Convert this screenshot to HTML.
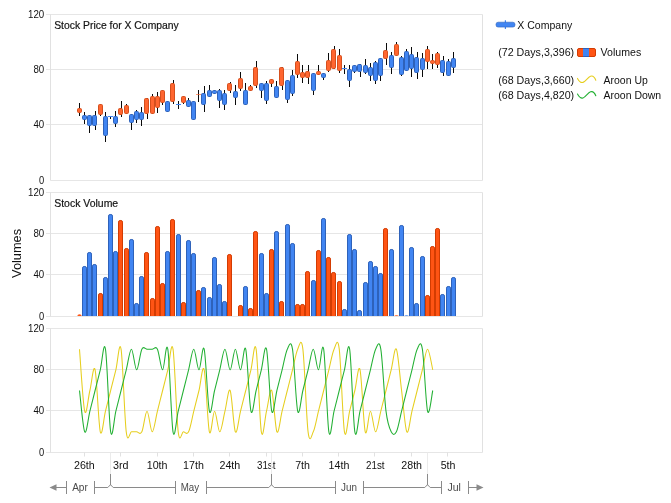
<!DOCTYPE html>
<html lang="en"><head><meta charset="utf-8"><title>Stock Price for X Company</title>
<style>html,body{margin:0;padding:0;background:#fff}svg{display:block}</style></head>
<body>
<svg width="671" height="503" viewBox="0 0 671 503" font-family='"Liberation Sans", sans-serif'>
<rect width="671" height="503" fill="#fff"/>
<line x1="46.0" y1="14.50" x2="482.5" y2="14.50" stroke="#E6E6E6" stroke-width="1"/>
<text x="44.2" y="18.40" font-size="11" text-anchor="end" fill="#111" textLength="16.2" lengthAdjust="spacingAndGlyphs">120</text>
<line x1="46.0" y1="69.50" x2="482.5" y2="69.50" stroke="#E6E6E6" stroke-width="1"/>
<text x="44.2" y="73.40" font-size="11" text-anchor="end" fill="#111" textLength="10.8" lengthAdjust="spacingAndGlyphs">80</text>
<line x1="46.0" y1="124.50" x2="482.5" y2="124.50" stroke="#E6E6E6" stroke-width="1"/>
<text x="44.2" y="128.40" font-size="11" text-anchor="end" fill="#111" textLength="10.8" lengthAdjust="spacingAndGlyphs">40</text>
<line x1="50.5" y1="180.50" x2="482.5" y2="180.50" stroke="#E6E6E6" stroke-width="1"/>
<text x="44.2" y="184.40" font-size="11" text-anchor="end" fill="#111" textLength="5.2" lengthAdjust="spacingAndGlyphs">0</text>
<line x1="50.5" y1="14.5" x2="50.5" y2="180.5" stroke="#E1E1E1" stroke-width="1"/>
<line x1="482.5" y1="14.5" x2="482.5" y2="180.5" stroke="#E1E1E1" stroke-width="1"/>
<text x="54.2" y="29" font-size="11.5" text-anchor="start" fill="#111" textLength="124.6" lengthAdjust="spacingAndGlyphs" stroke="#1a1a1a" stroke-width="0.2">Stock Price for X Company</text>
<line x1="46.0" y1="192.50" x2="482.5" y2="192.50" stroke="#E6E6E6" stroke-width="1"/>
<text x="44.2" y="196.40" font-size="11" text-anchor="end" fill="#111" textLength="16.2" lengthAdjust="spacingAndGlyphs">120</text>
<line x1="46.0" y1="233.50" x2="482.5" y2="233.50" stroke="#E6E6E6" stroke-width="1"/>
<text x="44.2" y="237.40" font-size="11" text-anchor="end" fill="#111" textLength="10.8" lengthAdjust="spacingAndGlyphs">80</text>
<line x1="46.0" y1="274.50" x2="482.5" y2="274.50" stroke="#E6E6E6" stroke-width="1"/>
<text x="44.2" y="278.40" font-size="11" text-anchor="end" fill="#111" textLength="10.8" lengthAdjust="spacingAndGlyphs">40</text>
<line x1="46.0" y1="316.50" x2="482.5" y2="316.50" stroke="#E6E6E6" stroke-width="1"/>
<text x="44.2" y="320.40" font-size="11" text-anchor="end" fill="#111" textLength="5.2" lengthAdjust="spacingAndGlyphs">0</text>
<line x1="50.5" y1="192.5" x2="50.5" y2="316.5" stroke="#E1E1E1" stroke-width="1"/>
<line x1="482.5" y1="192.5" x2="482.5" y2="316.5" stroke="#E1E1E1" stroke-width="1"/>
<text x="54.2" y="207" font-size="11.5" text-anchor="start" fill="#111" textLength="64" lengthAdjust="spacingAndGlyphs" stroke="#1a1a1a" stroke-width="0.2">Stock Volume</text>
<line x1="46.0" y1="328.50" x2="482.5" y2="328.50" stroke="#E6E6E6" stroke-width="1"/>
<text x="44.2" y="332.40" font-size="11" text-anchor="end" fill="#111" textLength="16.2" lengthAdjust="spacingAndGlyphs">120</text>
<line x1="46.0" y1="369.50" x2="482.5" y2="369.50" stroke="#E6E6E6" stroke-width="1"/>
<text x="44.2" y="373.40" font-size="11" text-anchor="end" fill="#111" textLength="10.8" lengthAdjust="spacingAndGlyphs">80</text>
<line x1="46.0" y1="410.50" x2="482.5" y2="410.50" stroke="#E6E6E6" stroke-width="1"/>
<text x="44.2" y="414.40" font-size="11" text-anchor="end" fill="#111" textLength="10.8" lengthAdjust="spacingAndGlyphs">40</text>
<line x1="46.0" y1="452.50" x2="482.5" y2="452.50" stroke="#E6E6E6" stroke-width="1"/>
<text x="44.2" y="456.40" font-size="11" text-anchor="end" fill="#111" textLength="5.2" lengthAdjust="spacingAndGlyphs">0</text>
<line x1="50.5" y1="328.5" x2="50.5" y2="452.5" stroke="#E1E1E1" stroke-width="1"/>
<line x1="482.5" y1="328.5" x2="482.5" y2="452.5" stroke="#E1E1E1" stroke-width="1"/>
<line x1="79.5" y1="103" x2="79.5" y2="116" stroke="#0a0a0a" stroke-width="1.05"/>
<rect x="77.5" y="108.5" width="4" height="4" rx="1.1" fill="#FF6630" stroke="#D5501E" stroke-width="1"/>
<line x1="84.5" y1="112" x2="84.5" y2="124" stroke="#0a0a0a" stroke-width="1.05"/>
<rect x="82.5" y="115.5" width="4" height="4" rx="1.1" fill="#4185F2" stroke="#2E62BA" stroke-width="1"/>
<line x1="89.5" y1="115" x2="89.5" y2="133" stroke="#0a0a0a" stroke-width="1.05"/>
<rect x="87.5" y="115.5" width="4" height="10" rx="1.1" fill="#4185F2" stroke="#2E62BA" stroke-width="1"/>
<line x1="95.5" y1="111" x2="95.5" y2="130" stroke="#0a0a0a" stroke-width="1.05"/>
<rect x="92.5" y="115.5" width="4" height="10" rx="1.1" fill="#4185F2" stroke="#2E62BA" stroke-width="1"/>
<line x1="100.5" y1="104" x2="100.5" y2="116" stroke="#0a0a0a" stroke-width="1.05"/>
<rect x="98.5" y="104.5" width="4" height="10" rx="1.1" fill="#FF6630" stroke="#D5501E" stroke-width="1"/>
<line x1="105.5" y1="112" x2="105.5" y2="142" stroke="#0a0a0a" stroke-width="1.05"/>
<rect x="103.5" y="116.5" width="4" height="19" rx="1.1" fill="#4185F2" stroke="#2E62BA" stroke-width="1"/>
<line x1="110.5" y1="116" x2="110.5" y2="119" stroke="#0a0a0a" stroke-width="1.05"/>
<line x1="108" y1="116.5" x2="113" y2="116.5" stroke="#4185F2" stroke-width="1" opacity="1"/>
<line x1="115.5" y1="111" x2="115.5" y2="127" stroke="#0a0a0a" stroke-width="1.05"/>
<rect x="113.5" y="116.5" width="4" height="7" rx="1.1" fill="#4185F2" stroke="#2E62BA" stroke-width="1"/>
<line x1="121.5" y1="101" x2="121.5" y2="117" stroke="#0a0a0a" stroke-width="1.05"/>
<rect x="118.5" y="108.5" width="4" height="6" rx="1.1" fill="#FF6630" stroke="#D5501E" stroke-width="1"/>
<line x1="126.5" y1="104" x2="126.5" y2="114" stroke="#0a0a0a" stroke-width="1.05"/>
<rect x="124.5" y="105.5" width="4" height="8" rx="1.1" fill="#FF6630" stroke="#D5501E" stroke-width="1"/>
<line x1="131.5" y1="114" x2="131.5" y2="130" stroke="#0a0a0a" stroke-width="1.05"/>
<rect x="129.5" y="114.5" width="4" height="8" rx="1.1" fill="#4185F2" stroke="#2E62BA" stroke-width="1"/>
<line x1="136.5" y1="110" x2="136.5" y2="123" stroke="#0a0a0a" stroke-width="1.05"/>
<rect x="134.5" y="111.5" width="4" height="8" rx="1.1" fill="#4185F2" stroke="#2E62BA" stroke-width="1"/>
<line x1="141.5" y1="107" x2="141.5" y2="126" stroke="#0a0a0a" stroke-width="1.05"/>
<rect x="139.5" y="112.5" width="4" height="7" rx="1.1" fill="#4185F2" stroke="#2E62BA" stroke-width="1"/>
<line x1="147.5" y1="98" x2="147.5" y2="119" stroke="#0a0a0a" stroke-width="1.05"/>
<rect x="144.5" y="98.5" width="4" height="15" rx="1.1" fill="#FF6630" stroke="#D5501E" stroke-width="1"/>
<line x1="152.5" y1="94" x2="152.5" y2="114" stroke="#0a0a0a" stroke-width="1.05"/>
<rect x="150.5" y="96.5" width="4" height="17" rx="1.1" fill="#FF6630" stroke="#D5501E" stroke-width="1"/>
<line x1="157.5" y1="92" x2="157.5" y2="113" stroke="#0a0a0a" stroke-width="1.05"/>
<rect x="155.5" y="96.5" width="4" height="11" rx="1.1" fill="#FF6630" stroke="#D5501E" stroke-width="1"/>
<line x1="162.5" y1="90" x2="162.5" y2="105" stroke="#0a0a0a" stroke-width="1.05"/>
<rect x="160.5" y="90.5" width="4" height="12" rx="1.1" fill="#FF6630" stroke="#D5501E" stroke-width="1"/>
<line x1="167.5" y1="101" x2="167.5" y2="112" stroke="#0a0a0a" stroke-width="1.05"/>
<rect x="165.5" y="101.5" width="4" height="10" rx="1.1" fill="#4185F2" stroke="#2E62BA" stroke-width="1"/>
<line x1="173.5" y1="80" x2="173.5" y2="104" stroke="#0a0a0a" stroke-width="1.05"/>
<rect x="170.5" y="83.5" width="4" height="18" rx="1.1" fill="#FF6630" stroke="#D5501E" stroke-width="1"/>
<line x1="178.5" y1="101" x2="178.5" y2="109" stroke="#0a0a0a" stroke-width="1.05"/>
<line x1="176" y1="104.5" x2="181" y2="104.5" stroke="#4185F2" stroke-width="1" opacity="1"/>
<line x1="183.5" y1="96" x2="183.5" y2="104" stroke="#0a0a0a" stroke-width="1.05"/>
<rect x="181.5" y="96.5" width="4" height="6" rx="1.1" fill="#FF6630" stroke="#D5501E" stroke-width="1"/>
<line x1="188.5" y1="98" x2="188.5" y2="107" stroke="#0a0a0a" stroke-width="1.05"/>
<rect x="186.5" y="100.5" width="4" height="6" rx="1.1" fill="#4185F2" stroke="#2E62BA" stroke-width="1"/>
<line x1="193.5" y1="101" x2="193.5" y2="120" stroke="#0a0a0a" stroke-width="1.05"/>
<rect x="191.5" y="101.5" width="4" height="18" rx="1.1" fill="#4185F2" stroke="#2E62BA" stroke-width="1"/>
<line x1="198.5" y1="90" x2="198.5" y2="102" stroke="#0a0a0a" stroke-width="1.05"/>
<line x1="196" y1="94.5" x2="201" y2="94.5" stroke="#FF6630" stroke-width="1" opacity="0.65"/>
<line x1="204.5" y1="86" x2="204.5" y2="112" stroke="#0a0a0a" stroke-width="1.05"/>
<rect x="201.5" y="93.5" width="4" height="11" rx="1.1" fill="#4185F2" stroke="#2E62BA" stroke-width="1"/>
<line x1="209.5" y1="85" x2="209.5" y2="97" stroke="#0a0a0a" stroke-width="1.05"/>
<rect x="207.5" y="90.5" width="4" height="6" rx="1.1" fill="#4185F2" stroke="#2E62BA" stroke-width="1"/>
<line x1="214.5" y1="90" x2="214.5" y2="94" stroke="#0a0a0a" stroke-width="1.05"/>
<rect x="212.5" y="90.5" width="4" height="3" rx="1.1" fill="#4185F2" stroke="#2E62BA" stroke-width="1"/>
<line x1="219.5" y1="89" x2="219.5" y2="108" stroke="#0a0a0a" stroke-width="1.05"/>
<rect x="217.5" y="90.5" width="4" height="10" rx="1.1" fill="#4185F2" stroke="#2E62BA" stroke-width="1"/>
<line x1="224.5" y1="90" x2="224.5" y2="110" stroke="#0a0a0a" stroke-width="1.05"/>
<rect x="222.5" y="93.5" width="4" height="11" rx="1.1" fill="#4185F2" stroke="#2E62BA" stroke-width="1"/>
<line x1="230.5" y1="82" x2="230.5" y2="93" stroke="#0a0a0a" stroke-width="1.05"/>
<rect x="227.5" y="83.5" width="4" height="7" rx="1.1" fill="#FF6630" stroke="#D5501E" stroke-width="1"/>
<line x1="235.5" y1="85" x2="235.5" y2="105" stroke="#0a0a0a" stroke-width="1.05"/>
<rect x="233.5" y="91.5" width="4" height="6" rx="1.1" fill="#4185F2" stroke="#2E62BA" stroke-width="1"/>
<line x1="240.5" y1="72" x2="240.5" y2="91" stroke="#0a0a0a" stroke-width="1.05"/>
<rect x="238.5" y="78.5" width="4" height="10" rx="1.1" fill="#FF6630" stroke="#D5501E" stroke-width="1"/>
<line x1="245.5" y1="83" x2="245.5" y2="105" stroke="#0a0a0a" stroke-width="1.05"/>
<rect x="243.5" y="90.5" width="4" height="14" rx="1.1" fill="#4185F2" stroke="#2E62BA" stroke-width="1"/>
<line x1="250.5" y1="85" x2="250.5" y2="91" stroke="#0a0a0a" stroke-width="1.05"/>
<rect x="248.5" y="86.5" width="4" height="4" rx="1.1" fill="#FF6630" stroke="#D5501E" stroke-width="1"/>
<line x1="256.5" y1="61" x2="256.5" y2="88" stroke="#0a0a0a" stroke-width="1.05"/>
<rect x="253.5" y="67.5" width="4" height="18" rx="1.1" fill="#FF6630" stroke="#D5501E" stroke-width="1"/>
<line x1="261.5" y1="83" x2="261.5" y2="98" stroke="#0a0a0a" stroke-width="1.05"/>
<rect x="259.5" y="83.5" width="4" height="7" rx="1.1" fill="#4185F2" stroke="#2E62BA" stroke-width="1"/>
<line x1="266.5" y1="81" x2="266.5" y2="104" stroke="#0a0a0a" stroke-width="1.05"/>
<rect x="264.5" y="83.5" width="4" height="17" rx="1.1" fill="#4185F2" stroke="#2E62BA" stroke-width="1"/>
<line x1="271.5" y1="79" x2="271.5" y2="87" stroke="#0a0a0a" stroke-width="1.05"/>
<rect x="269.5" y="79.5" width="4" height="4" rx="1.1" fill="#FF6630" stroke="#D5501E" stroke-width="1"/>
<line x1="276.5" y1="81" x2="276.5" y2="98" stroke="#0a0a0a" stroke-width="1.05"/>
<rect x="274.5" y="86.5" width="4" height="11" rx="1.1" fill="#4185F2" stroke="#2E62BA" stroke-width="1"/>
<line x1="282.5" y1="67" x2="282.5" y2="90" stroke="#0a0a0a" stroke-width="1.05"/>
<rect x="279.5" y="67.5" width="4" height="18" rx="1.1" fill="#FF6630" stroke="#D5501E" stroke-width="1"/>
<line x1="287.5" y1="80" x2="287.5" y2="103" stroke="#0a0a0a" stroke-width="1.05"/>
<rect x="285.5" y="80.5" width="4" height="19" rx="1.1" fill="#4185F2" stroke="#2E62BA" stroke-width="1"/>
<line x1="292.5" y1="70" x2="292.5" y2="96" stroke="#0a0a0a" stroke-width="1.05"/>
<rect x="290.5" y="75.5" width="4" height="18" rx="1.1" fill="#4185F2" stroke="#2E62BA" stroke-width="1"/>
<line x1="297.5" y1="54" x2="297.5" y2="78" stroke="#0a0a0a" stroke-width="1.05"/>
<rect x="295.5" y="61.5" width="4" height="13" rx="1.1" fill="#FF6630" stroke="#D5501E" stroke-width="1"/>
<line x1="302.5" y1="65" x2="302.5" y2="83" stroke="#0a0a0a" stroke-width="1.05"/>
<rect x="300.5" y="72.5" width="4" height="5" rx="1.1" fill="#FF6630" stroke="#D5501E" stroke-width="1"/>
<line x1="308.5" y1="65" x2="308.5" y2="84" stroke="#0a0a0a" stroke-width="1.05"/>
<rect x="305.5" y="71.5" width="4" height="6" rx="1.1" fill="#FF6630" stroke="#D5501E" stroke-width="1"/>
<line x1="313.5" y1="73" x2="313.5" y2="95" stroke="#0a0a0a" stroke-width="1.05"/>
<rect x="311.5" y="73.5" width="4" height="17" rx="1.1" fill="#4185F2" stroke="#2E62BA" stroke-width="1"/>
<line x1="318.5" y1="65" x2="318.5" y2="75" stroke="#0a0a0a" stroke-width="1.05"/>
<rect x="316.5" y="71.5" width="4" height="3" rx="1.1" fill="#FF6630" stroke="#D5501E" stroke-width="1"/>
<line x1="323.5" y1="73" x2="323.5" y2="80" stroke="#0a0a0a" stroke-width="1.05"/>
<rect x="321.5" y="73.5" width="4" height="4" rx="1.1" fill="#4185F2" stroke="#2E62BA" stroke-width="1"/>
<line x1="328.5" y1="53" x2="328.5" y2="72" stroke="#0a0a0a" stroke-width="1.05"/>
<rect x="326.5" y="60.5" width="4" height="10" rx="1.1" fill="#FF6630" stroke="#D5501E" stroke-width="1"/>
<line x1="334.5" y1="46" x2="334.5" y2="69" stroke="#0a0a0a" stroke-width="1.05"/>
<rect x="331.5" y="49.5" width="4" height="19" rx="1.1" fill="#FF6630" stroke="#D5501E" stroke-width="1"/>
<line x1="339.5" y1="49" x2="339.5" y2="73" stroke="#0a0a0a" stroke-width="1.05"/>
<rect x="337.5" y="55.5" width="4" height="15" rx="1.1" fill="#FF6630" stroke="#D5501E" stroke-width="1"/>
<line x1="344.5" y1="65" x2="344.5" y2="74" stroke="#0a0a0a" stroke-width="1.05"/>
<line x1="342" y1="68.5" x2="347" y2="68.5" stroke="#4185F2" stroke-width="1" opacity="1"/>
<line x1="349.5" y1="65" x2="349.5" y2="87" stroke="#0a0a0a" stroke-width="1.05"/>
<rect x="347.5" y="69.5" width="4" height="11" rx="1.1" fill="#4185F2" stroke="#2E62BA" stroke-width="1"/>
<line x1="354.5" y1="65" x2="354.5" y2="73" stroke="#0a0a0a" stroke-width="1.05"/>
<rect x="352.5" y="65.5" width="4" height="6" rx="1.1" fill="#4185F2" stroke="#2E62BA" stroke-width="1"/>
<line x1="360.5" y1="64" x2="360.5" y2="77" stroke="#0a0a0a" stroke-width="1.05"/>
<rect x="357.5" y="64.5" width="4" height="7" rx="1.1" fill="#4185F2" stroke="#2E62BA" stroke-width="1"/>
<line x1="365.5" y1="59" x2="365.5" y2="74" stroke="#0a0a0a" stroke-width="1.05"/>
<rect x="363.5" y="65.5" width="4" height="7" rx="1.1" fill="#4185F2" stroke="#2E62BA" stroke-width="1"/>
<line x1="370.5" y1="63" x2="370.5" y2="81" stroke="#0a0a0a" stroke-width="1.05"/>
<rect x="368.5" y="67.5" width="4" height="8" rx="1.1" fill="#4185F2" stroke="#2E62BA" stroke-width="1"/>
<line x1="375.5" y1="61" x2="375.5" y2="84" stroke="#0a0a0a" stroke-width="1.05"/>
<rect x="373.5" y="62.5" width="4" height="18" rx="1.1" fill="#4185F2" stroke="#2E62BA" stroke-width="1"/>
<line x1="380.5" y1="58" x2="380.5" y2="81" stroke="#0a0a0a" stroke-width="1.05"/>
<rect x="378.5" y="58.5" width="4" height="17" rx="1.1" fill="#4185F2" stroke="#2E62BA" stroke-width="1"/>
<line x1="386.5" y1="43" x2="386.5" y2="65" stroke="#0a0a0a" stroke-width="1.05"/>
<rect x="383.5" y="50.5" width="4" height="8" rx="1.1" fill="#FF6630" stroke="#D5501E" stroke-width="1"/>
<line x1="391.5" y1="52" x2="391.5" y2="74" stroke="#0a0a0a" stroke-width="1.05"/>
<rect x="389.5" y="55.5" width="4" height="12" rx="1.1" fill="#4185F2" stroke="#2E62BA" stroke-width="1"/>
<line x1="396.5" y1="42" x2="396.5" y2="56" stroke="#0a0a0a" stroke-width="1.05"/>
<rect x="394.5" y="44.5" width="4" height="11" rx="1.1" fill="#FF6630" stroke="#D5501E" stroke-width="1"/>
<line x1="401.5" y1="56" x2="401.5" y2="76" stroke="#0a0a0a" stroke-width="1.05"/>
<rect x="399.5" y="57.5" width="4" height="17" rx="1.1" fill="#4185F2" stroke="#2E62BA" stroke-width="1"/>
<line x1="406.5" y1="49" x2="406.5" y2="71" stroke="#0a0a0a" stroke-width="1.05"/>
<rect x="404.5" y="51.5" width="4" height="19" rx="1.1" fill="#4185F2" stroke="#2E62BA" stroke-width="1"/>
<line x1="411.5" y1="47" x2="411.5" y2="77" stroke="#0a0a0a" stroke-width="1.05"/>
<rect x="409.5" y="54.5" width="4" height="14" rx="1.1" fill="#4185F2" stroke="#2E62BA" stroke-width="1"/>
<line x1="417.5" y1="52" x2="417.5" y2="79" stroke="#0a0a0a" stroke-width="1.05"/>
<rect x="414.5" y="57.5" width="4" height="15" rx="1.1" fill="#4185F2" stroke="#2E62BA" stroke-width="1"/>
<line x1="422.5" y1="53" x2="422.5" y2="77" stroke="#0a0a0a" stroke-width="1.05"/>
<rect x="420.5" y="58.5" width="4" height="11" rx="1.1" fill="#4185F2" stroke="#2E62BA" stroke-width="1"/>
<line x1="427.5" y1="46" x2="427.5" y2="69" stroke="#0a0a0a" stroke-width="1.05"/>
<rect x="425.5" y="49.5" width="4" height="12" rx="1.1" fill="#FF6630" stroke="#D5501E" stroke-width="1"/>
<line x1="432.5" y1="54" x2="432.5" y2="69" stroke="#0a0a0a" stroke-width="1.05"/>
<rect x="430.5" y="60.5" width="4" height="3" rx="1.1" fill="#FF6630" stroke="#D5501E" stroke-width="1"/>
<line x1="437.5" y1="52" x2="437.5" y2="68" stroke="#0a0a0a" stroke-width="1.05"/>
<rect x="435.5" y="53.5" width="4" height="11" rx="1.1" fill="#FF6630" stroke="#D5501E" stroke-width="1"/>
<line x1="443.5" y1="56" x2="443.5" y2="76" stroke="#0a0a0a" stroke-width="1.05"/>
<rect x="440.5" y="60.5" width="4" height="12" rx="1.1" fill="#4185F2" stroke="#2E62BA" stroke-width="1"/>
<line x1="448.5" y1="59" x2="448.5" y2="76" stroke="#0a0a0a" stroke-width="1.05"/>
<rect x="446.5" y="61.5" width="4" height="14" rx="1.1" fill="#4185F2" stroke="#2E62BA" stroke-width="1"/>
<line x1="453.5" y1="52" x2="453.5" y2="73" stroke="#0a0a0a" stroke-width="1.05"/>
<rect x="451.5" y="58.5" width="4" height="9" rx="1.1" fill="#4185F2" stroke="#2E62BA" stroke-width="1"/>
<path d="M77.3 316 Q77.5 314.3 79.5 314.3 Q81.5 314.3 81.7 316 Z" fill="#FF5414"/>
<path d="M82.5 316 V268.1 Q82.5 266.5 84.1 266.5 H84.9 Q86.5 266.5 86.5 268.1 V316" fill="#4185F2" stroke="#2E62BA" stroke-width="1"/>
<path d="M87.5 316 V254.1 Q87.5 252.5 89.1 252.5 H89.9 Q91.5 252.5 91.5 254.1 V316" fill="#4185F2" stroke="#2E62BA" stroke-width="1"/>
<path d="M92.5 316 V266.1 Q92.5 264.5 94.1 264.5 H94.9 Q96.5 264.5 96.5 266.1 V316" fill="#4185F2" stroke="#2E62BA" stroke-width="1"/>
<path d="M98.5 316 V295.1 Q98.5 293.5 100.1 293.5 H100.9 Q102.5 293.5 102.5 295.1 V316" fill="#FF5414" stroke="#D33C02" stroke-width="1"/>
<path d="M103.5 316 V279.1 Q103.5 277.5 105.1 277.5 H105.9 Q107.5 277.5 107.5 279.1 V316" fill="#4185F2" stroke="#2E62BA" stroke-width="1"/>
<path d="M108.5 316 V216.1 Q108.5 214.5 110.1 214.5 H110.9 Q112.5 214.5 112.5 216.1 V316" fill="#4185F2" stroke="#2E62BA" stroke-width="1"/>
<path d="M113.5 316 V253.1 Q113.5 251.5 115.1 251.5 H115.9 Q117.5 251.5 117.5 253.1 V316" fill="#4185F2" stroke="#2E62BA" stroke-width="1"/>
<path d="M118.5 316 V222.1 Q118.5 220.5 120.1 220.5 H120.9 Q122.5 220.5 122.5 222.1 V316" fill="#FF5414" stroke="#D33C02" stroke-width="1"/>
<path d="M124.5 316 V250.1 Q124.5 248.5 126.1 248.5 H126.9 Q128.5 248.5 128.5 250.1 V316" fill="#FF5414" stroke="#D33C02" stroke-width="1"/>
<path d="M129.5 316 V241.1 Q129.5 239.5 131.1 239.5 H131.9 Q133.5 239.5 133.5 241.1 V316" fill="#4185F2" stroke="#2E62BA" stroke-width="1"/>
<path d="M134.5 316 V305.1 Q134.5 303.5 136.1 303.5 H136.9 Q138.5 303.5 138.5 305.1 V316" fill="#4185F2" stroke="#2E62BA" stroke-width="1"/>
<path d="M139.5 316 V278.1 Q139.5 276.5 141.1 276.5 H141.9 Q143.5 276.5 143.5 278.1 V316" fill="#4185F2" stroke="#2E62BA" stroke-width="1"/>
<path d="M144.5 316 V254.1 Q144.5 252.5 146.1 252.5 H146.9 Q148.5 252.5 148.5 254.1 V316" fill="#FF5414" stroke="#D33C02" stroke-width="1"/>
<path d="M150.5 316 V300.1 Q150.5 298.5 152.1 298.5 H152.9 Q154.5 298.5 154.5 300.1 V316" fill="#FF5414" stroke="#D33C02" stroke-width="1"/>
<path d="M155.5 316 V228.1 Q155.5 226.5 157.1 226.5 H157.9 Q159.5 226.5 159.5 228.1 V316" fill="#FF5414" stroke="#D33C02" stroke-width="1"/>
<path d="M160.5 316 V285.1 Q160.5 283.5 162.1 283.5 H162.9 Q164.5 283.5 164.5 285.1 V316" fill="#FF5414" stroke="#D33C02" stroke-width="1"/>
<path d="M165.5 316 V253.1 Q165.5 251.5 167.1 251.5 H167.9 Q169.5 251.5 169.5 253.1 V316" fill="#4185F2" stroke="#2E62BA" stroke-width="1"/>
<path d="M170.5 316 V221.1 Q170.5 219.5 172.1 219.5 H172.9 Q174.5 219.5 174.5 221.1 V316" fill="#FF5414" stroke="#D33C02" stroke-width="1"/>
<path d="M176.5 316 V236.1 Q176.5 234.5 178.1 234.5 H178.9 Q180.5 234.5 180.5 236.1 V316" fill="#4185F2" stroke="#2E62BA" stroke-width="1"/>
<path d="M181.5 316 V304.1 Q181.5 302.5 183.1 302.5 H183.9 Q185.5 302.5 185.5 304.1 V316" fill="#FF5414" stroke="#D33C02" stroke-width="1"/>
<path d="M186.5 316 V242.1 Q186.5 240.5 188.1 240.5 H188.9 Q190.5 240.5 190.5 242.1 V316" fill="#4185F2" stroke="#2E62BA" stroke-width="1"/>
<path d="M191.5 316 V255.1 Q191.5 253.5 193.1 253.5 H193.9 Q195.5 253.5 195.5 255.1 V316" fill="#4185F2" stroke="#2E62BA" stroke-width="1"/>
<path d="M196.5 316 V292.1 Q196.5 290.5 198.1 290.5 H198.9 Q200.5 290.5 200.5 292.1 V316" fill="#FF5414" stroke="#D33C02" stroke-width="1"/>
<path d="M201.5 316 V289.1 Q201.5 287.5 203.1 287.5 H203.9 Q205.5 287.5 205.5 289.1 V316" fill="#4185F2" stroke="#2E62BA" stroke-width="1"/>
<path d="M207.5 316 V299.1 Q207.5 297.5 209.1 297.5 H209.9 Q211.5 297.5 211.5 299.1 V316" fill="#4185F2" stroke="#2E62BA" stroke-width="1"/>
<path d="M212.5 316 V259.1 Q212.5 257.5 214.1 257.5 H214.9 Q216.5 257.5 216.5 259.1 V316" fill="#4185F2" stroke="#2E62BA" stroke-width="1"/>
<path d="M217.5 316 V286.1 Q217.5 284.5 219.1 284.5 H219.9 Q221.5 284.5 221.5 286.1 V316" fill="#4185F2" stroke="#2E62BA" stroke-width="1"/>
<path d="M222.5 316 V303.1 Q222.5 301.5 224.1 301.5 H224.9 Q226.5 301.5 226.5 303.1 V316" fill="#4185F2" stroke="#2E62BA" stroke-width="1"/>
<path d="M227.5 316 V256.1 Q227.5 254.5 229.1 254.5 H229.9 Q231.5 254.5 231.5 256.1 V316" fill="#FF5414" stroke="#D33C02" stroke-width="1"/>
<path d="M238.5 316 V307.1 Q238.5 305.5 240.1 305.5 H240.9 Q242.5 305.5 242.5 307.1 V316" fill="#FF5414" stroke="#D33C02" stroke-width="1"/>
<path d="M243.5 316 V288.1 Q243.5 286.5 245.1 286.5 H245.9 Q247.5 286.5 247.5 288.1 V316" fill="#4185F2" stroke="#2E62BA" stroke-width="1"/>
<path d="M248.5 316 V310.1 Q248.5 308.5 250.1 308.5 H250.9 Q252.5 308.5 252.5 310.1 V316" fill="#FF5414" stroke="#D33C02" stroke-width="1"/>
<path d="M253.5 316 V233.1 Q253.5 231.5 255.1 231.5 H255.9 Q257.5 231.5 257.5 233.1 V316" fill="#FF5414" stroke="#D33C02" stroke-width="1"/>
<path d="M259.5 316 V255.1 Q259.5 253.5 261.1 253.5 H261.9 Q263.5 253.5 263.5 255.1 V316" fill="#4185F2" stroke="#2E62BA" stroke-width="1"/>
<path d="M264.5 316 V295.1 Q264.5 293.5 266.1 293.5 H266.9 Q268.5 293.5 268.5 295.1 V316" fill="#4185F2" stroke="#2E62BA" stroke-width="1"/>
<path d="M269.5 316 V251.1 Q269.5 249.5 271.1 249.5 H271.9 Q273.5 249.5 273.5 251.1 V316" fill="#FF5414" stroke="#D33C02" stroke-width="1"/>
<path d="M274.5 316 V233.1 Q274.5 231.5 276.1 231.5 H276.9 Q278.5 231.5 278.5 233.1 V316" fill="#4185F2" stroke="#2E62BA" stroke-width="1"/>
<path d="M279.5 316 V303.1 Q279.5 301.5 281.1 301.5 H281.9 Q283.5 301.5 283.5 303.1 V316" fill="#FF5414" stroke="#D33C02" stroke-width="1"/>
<path d="M285.5 316 V226.1 Q285.5 224.5 287.1 224.5 H287.9 Q289.5 224.5 289.5 226.1 V316" fill="#4185F2" stroke="#2E62BA" stroke-width="1"/>
<path d="M290.5 316 V245.1 Q290.5 243.5 292.1 243.5 H292.9 Q294.5 243.5 294.5 245.1 V316" fill="#4185F2" stroke="#2E62BA" stroke-width="1"/>
<path d="M295.5 316 V306.1 Q295.5 304.5 297.1 304.5 H297.9 Q299.5 304.5 299.5 306.1 V316" fill="#FF5414" stroke="#D33C02" stroke-width="1"/>
<path d="M300.5 316 V306.1 Q300.5 304.5 302.1 304.5 H302.9 Q304.5 304.5 304.5 306.1 V316" fill="#FF5414" stroke="#D33C02" stroke-width="1"/>
<path d="M305.5 316 V273.1 Q305.5 271.5 307.1 271.5 H307.9 Q309.5 271.5 309.5 273.1 V316" fill="#FF5414" stroke="#D33C02" stroke-width="1"/>
<path d="M311.5 316 V282.1 Q311.5 280.5 313.1 280.5 H313.9 Q315.5 280.5 315.5 282.1 V316" fill="#4185F2" stroke="#2E62BA" stroke-width="1"/>
<path d="M316.5 316 V252.1 Q316.5 250.5 318.1 250.5 H318.9 Q320.5 250.5 320.5 252.1 V316" fill="#FF5414" stroke="#D33C02" stroke-width="1"/>
<path d="M321.5 316 V220.1 Q321.5 218.5 323.1 218.5 H323.9 Q325.5 218.5 325.5 220.1 V316" fill="#4185F2" stroke="#2E62BA" stroke-width="1"/>
<path d="M326.5 316 V259.1 Q326.5 257.5 328.1 257.5 H328.9 Q330.5 257.5 330.5 259.1 V316" fill="#FF5414" stroke="#D33C02" stroke-width="1"/>
<path d="M331.5 316 V274.1 Q331.5 272.5 333.1 272.5 H333.9 Q335.5 272.5 335.5 274.1 V316" fill="#FF5414" stroke="#D33C02" stroke-width="1"/>
<path d="M337.5 316 V283.1 Q337.5 281.5 339.1 281.5 H339.9 Q341.5 281.5 341.5 283.1 V316" fill="#FF5414" stroke="#D33C02" stroke-width="1"/>
<path d="M342.5 316 V311.1 Q342.5 309.5 344.1 309.5 H344.9 Q346.5 309.5 346.5 311.1 V316" fill="#4185F2" stroke="#2E62BA" stroke-width="1"/>
<path d="M347.5 316 V236.1 Q347.5 234.5 349.1 234.5 H349.9 Q351.5 234.5 351.5 236.1 V316" fill="#4185F2" stroke="#2E62BA" stroke-width="1"/>
<path d="M352.5 316 V251.1 Q352.5 249.5 354.1 249.5 H354.9 Q356.5 249.5 356.5 251.1 V316" fill="#4185F2" stroke="#2E62BA" stroke-width="1"/>
<path d="M357.5 316 V312.1 Q357.5 310.5 359.1 310.5 H359.9 Q361.5 310.5 361.5 312.1 V316" fill="#4185F2" stroke="#2E62BA" stroke-width="1"/>
<path d="M363.5 316 V284.1 Q363.5 282.5 365.1 282.5 H365.9 Q367.5 282.5 367.5 284.1 V316" fill="#4185F2" stroke="#2E62BA" stroke-width="1"/>
<path d="M368.5 316 V263.1 Q368.5 261.5 370.1 261.5 H370.9 Q372.5 261.5 372.5 263.1 V316" fill="#4185F2" stroke="#2E62BA" stroke-width="1"/>
<path d="M373.5 316 V268.1 Q373.5 266.5 375.1 266.5 H375.9 Q377.5 266.5 377.5 268.1 V316" fill="#4185F2" stroke="#2E62BA" stroke-width="1"/>
<path d="M378.5 316 V275.1 Q378.5 273.5 380.1 273.5 H380.9 Q382.5 273.5 382.5 275.1 V316" fill="#4185F2" stroke="#2E62BA" stroke-width="1"/>
<path d="M383.5 316 V230.1 Q383.5 228.5 385.1 228.5 H385.9 Q387.5 228.5 387.5 230.1 V316" fill="#FF5414" stroke="#D33C02" stroke-width="1"/>
<path d="M389.5 316 V251.1 Q389.5 249.5 391.1 249.5 H391.9 Q393.5 249.5 393.5 251.1 V316" fill="#4185F2" stroke="#2E62BA" stroke-width="1"/>
<path d="M394.3 316 Q394.5 315.3 396.5 315.3 Q398.5 315.3 398.7 316 Z" fill="#FF5414"/>
<path d="M399.5 316 V227.1 Q399.5 225.5 401.1 225.5 H401.9 Q403.5 225.5 403.5 227.1 V316" fill="#4185F2" stroke="#2E62BA" stroke-width="1"/>
<path d="M404.3 316 Q404.5 315.3 406.5 315.3 Q408.5 315.3 408.7 316 Z" fill="#4185F2"/>
<path d="M409.5 316 V249.1 Q409.5 247.5 411.1 247.5 H411.9 Q413.5 247.5 413.5 249.1 V316" fill="#4185F2" stroke="#2E62BA" stroke-width="1"/>
<path d="M414.5 316 V305.1 Q414.5 303.5 416.1 303.5 H416.9 Q418.5 303.5 418.5 305.1 V316" fill="#4185F2" stroke="#2E62BA" stroke-width="1"/>
<path d="M420.5 316 V258.1 Q420.5 256.5 422.1 256.5 H422.9 Q424.5 256.5 424.5 258.1 V316" fill="#4185F2" stroke="#2E62BA" stroke-width="1"/>
<path d="M425.5 316 V297.1 Q425.5 295.5 427.1 295.5 H427.9 Q429.5 295.5 429.5 297.1 V316" fill="#FF5414" stroke="#D33C02" stroke-width="1"/>
<path d="M430.5 316 V248.1 Q430.5 246.5 432.1 246.5 H432.9 Q434.5 246.5 434.5 248.1 V316" fill="#FF5414" stroke="#D33C02" stroke-width="1"/>
<path d="M435.5 316 V230.1 Q435.5 228.5 437.1 228.5 H437.9 Q439.5 228.5 439.5 230.1 V316" fill="#FF5414" stroke="#D33C02" stroke-width="1"/>
<path d="M440.5 316 V296.1 Q440.5 294.5 442.1 294.5 H442.9 Q444.5 294.5 444.5 296.1 V316" fill="#4185F2" stroke="#2E62BA" stroke-width="1"/>
<path d="M446.5 316 V288.1 Q446.5 286.5 448.1 286.5 H448.9 Q450.5 286.5 450.5 288.1 V316" fill="#4185F2" stroke="#2E62BA" stroke-width="1"/>
<path d="M451.5 316 V279.1 Q451.5 277.5 453.1 277.5 H453.9 Q455.5 277.5 455.5 279.1 V316" fill="#4185F2" stroke="#2E62BA" stroke-width="1"/>
<path d="M79.50 349.17 C80.37 359.50 82.96 404.28 84.69 411.17 C86.43 418.06 88.16 397.39 89.89 390.50 C91.62 383.61 93.35 362.94 95.09 369.83 C96.82 376.72 98.55 424.94 100.28 431.83 C102.01 438.72 103.74 418.06 105.47 411.17 C107.21 404.28 108.94 397.39 110.67 390.50 C112.40 383.61 114.13 376.72 115.87 369.83 C117.60 362.94 119.33 338.83 121.06 349.17 C122.79 359.50 124.52 418.06 126.25 431.83 C127.99 445.61 129.72 431.83 131.45 431.83 C133.18 431.83 134.91 431.83 136.65 431.83 C138.38 431.83 140.11 435.28 141.84 431.83 C143.57 428.39 145.30 411.17 147.03 411.17 C148.77 411.17 150.50 431.83 152.23 431.83 C153.96 431.83 155.69 418.06 157.43 411.17 C159.16 404.28 160.89 397.39 162.62 390.50 C164.35 383.61 166.08 376.72 167.81 369.83 C169.55 362.94 171.28 338.83 173.01 349.17 C174.74 359.50 176.47 418.06 178.21 431.83 C179.94 445.61 181.67 431.83 183.40 431.83 C185.13 431.83 186.86 435.28 188.59 431.83 C190.33 428.39 192.06 418.06 193.79 411.17 C195.52 404.28 197.25 397.39 198.99 390.50 C200.72 383.61 202.45 362.94 204.18 369.83 C205.91 376.72 207.64 424.94 209.38 431.83 C211.11 438.72 212.84 411.17 214.57 411.17 C216.30 411.17 218.03 431.83 219.77 431.83 C221.50 431.83 223.23 418.06 224.96 411.17 C226.69 404.28 228.42 387.06 230.16 390.50 C231.89 393.94 233.62 428.39 235.35 431.83 C237.08 435.28 238.81 418.06 240.55 411.17 C242.28 404.28 244.01 397.39 245.74 390.50 C247.47 383.61 249.20 376.72 250.94 369.83 C252.67 362.94 254.40 338.83 256.13 349.17 C257.86 359.50 259.59 421.50 261.33 431.83 C263.06 442.17 264.79 418.06 266.52 411.17 C268.25 404.28 269.98 387.06 271.72 390.50 C273.45 393.94 275.18 428.39 276.91 431.83 C278.64 435.28 280.37 418.06 282.11 411.17 C283.84 404.28 285.57 397.39 287.30 390.50 C289.03 383.61 290.76 376.72 292.50 369.83 C294.23 362.94 295.96 352.61 297.69 349.17 C299.42 345.72 301.15 335.39 302.88 349.17 C304.62 362.94 306.35 418.06 308.08 431.83 C309.81 445.61 311.54 435.28 313.27 431.83 C315.01 428.39 316.74 418.06 318.47 411.17 C320.20 404.28 321.93 397.39 323.67 390.50 C325.40 383.61 327.13 376.72 328.86 369.83 C330.59 362.94 332.32 352.61 334.06 349.17 C335.79 345.72 337.52 335.39 339.25 349.17 C340.98 362.94 342.71 421.50 344.44 431.83 C346.18 442.17 347.91 418.06 349.64 411.17 C351.37 404.28 353.10 397.39 354.84 390.50 C356.57 383.61 358.30 362.94 360.03 369.83 C361.76 376.72 363.49 424.94 365.23 431.83 C366.96 438.72 368.69 411.17 370.42 411.17 C372.15 411.17 373.88 431.83 375.62 431.83 C377.35 431.83 379.08 418.06 380.81 411.17 C382.54 404.28 384.27 397.39 386.00 390.50 C387.74 383.61 389.47 376.72 391.20 369.83 C392.93 362.94 394.66 345.72 396.40 349.17 C398.13 352.61 399.86 376.72 401.59 390.50 C403.32 404.28 405.05 428.39 406.79 431.83 C408.52 435.28 410.25 418.06 411.98 411.17 C413.71 404.28 415.44 397.39 417.18 390.50 C418.91 383.61 420.64 376.72 422.37 369.83 C424.10 362.94 425.83 349.17 427.56 349.17 C429.30 349.17 431.89 366.39 432.76 369.83" fill="none" stroke="#E6CE1E" stroke-width="1.05" stroke-linejoin="round"/>
<path d="M79.50 390.50 C80.37 397.39 82.96 428.39 84.69 431.83 C86.43 435.28 88.16 418.06 89.89 411.17 C91.62 404.28 93.35 397.39 95.09 390.50 C96.82 383.61 98.55 376.72 100.28 369.83 C102.01 362.94 103.74 338.83 105.47 349.17 C107.21 359.50 108.94 421.50 110.67 431.83 C112.40 442.17 114.13 418.06 115.87 411.17 C117.60 404.28 119.33 397.39 121.06 390.50 C122.79 383.61 124.52 376.72 126.25 369.83 C127.99 362.94 129.72 349.17 131.45 349.17 C133.18 349.17 134.91 369.83 136.65 369.83 C138.38 369.83 140.11 352.61 141.84 349.17 C143.57 345.72 145.30 349.17 147.03 349.17 C148.77 349.17 150.50 349.17 152.23 349.17 C153.96 349.17 155.69 345.72 157.43 349.17 C159.16 352.61 160.89 369.83 162.62 369.83 C164.35 369.83 166.08 338.83 167.81 349.17 C169.55 359.50 171.28 421.50 173.01 431.83 C174.74 442.17 176.47 418.06 178.21 411.17 C179.94 404.28 181.67 397.39 183.40 390.50 C185.13 383.61 186.86 376.72 188.59 369.83 C190.33 362.94 192.06 349.17 193.79 349.17 C195.52 349.17 197.25 369.83 198.99 369.83 C200.72 369.83 202.45 342.28 204.18 349.17 C205.91 356.06 207.64 404.28 209.38 411.17 C211.11 418.06 212.84 397.39 214.57 390.50 C216.30 383.61 218.03 376.72 219.77 369.83 C221.50 362.94 223.23 349.17 224.96 349.17 C226.69 349.17 228.42 369.83 230.16 369.83 C231.89 369.83 233.62 349.17 235.35 349.17 C237.08 349.17 238.81 369.83 240.55 369.83 C242.28 369.83 244.01 342.28 245.74 349.17 C247.47 356.06 249.20 404.28 250.94 411.17 C252.67 418.06 254.40 397.39 256.13 390.50 C257.86 383.61 259.59 376.72 261.33 369.83 C263.06 362.94 264.79 342.28 266.52 349.17 C268.25 356.06 269.98 404.28 271.72 411.17 C273.45 418.06 275.18 397.39 276.91 390.50 C278.64 383.61 280.37 376.72 282.11 369.83 C283.84 362.94 285.57 352.61 287.30 349.17 C289.03 345.72 290.76 338.83 292.50 349.17 C294.23 359.50 295.96 404.28 297.69 411.17 C299.42 418.06 301.15 397.39 302.88 390.50 C304.62 383.61 306.35 376.72 308.08 369.83 C309.81 362.94 311.54 349.17 313.27 349.17 C315.01 349.17 316.74 369.83 318.47 369.83 C320.20 369.83 321.93 338.83 323.67 349.17 C325.40 359.50 327.13 421.50 328.86 431.83 C330.59 442.17 332.32 418.06 334.06 411.17 C335.79 404.28 337.52 397.39 339.25 390.50 C340.98 383.61 342.71 376.72 344.44 369.83 C346.18 362.94 347.91 338.83 349.64 349.17 C351.37 359.50 353.10 421.50 354.84 431.83 C356.57 442.17 358.30 418.06 360.03 411.17 C361.76 404.28 363.49 397.39 365.23 390.50 C366.96 383.61 368.69 376.72 370.42 369.83 C372.15 362.94 373.88 352.61 375.62 349.17 C377.35 345.72 379.08 338.83 380.81 349.17 C382.54 359.50 384.27 397.39 386.00 411.17 C387.74 424.94 389.47 428.39 391.20 431.83 C392.93 435.28 394.66 435.28 396.40 431.83 C398.13 428.39 399.86 418.06 401.59 411.17 C403.32 404.28 405.05 397.39 406.79 390.50 C408.52 383.61 410.25 376.72 411.98 369.83 C413.71 362.94 415.44 352.61 417.18 349.17 C418.91 345.72 420.64 338.83 422.37 349.17 C424.10 359.50 425.83 404.28 427.56 411.17 C429.30 418.06 431.89 393.94 432.76 390.50" fill="none" stroke="#22B033" stroke-width="1.05" stroke-linejoin="round"/>
<line x1="84.5" y1="452.5" x2="84.5" y2="456.5" stroke="#E1E1E1" stroke-width="1"/>
<text x="84.39" y="468.8" font-size="11" text-anchor="middle" fill="#111" textLength="20.8" lengthAdjust="spacingAndGlyphs">26th</text>
<line x1="120.5" y1="452.5" x2="120.5" y2="456.5" stroke="#E1E1E1" stroke-width="1"/>
<text x="120.76" y="468.8" font-size="11" text-anchor="middle" fill="#111" textLength="15.5" lengthAdjust="spacingAndGlyphs">3rd</text>
<line x1="157.5" y1="452.5" x2="157.5" y2="456.5" stroke="#E1E1E1" stroke-width="1"/>
<text x="157.12" y="468.8" font-size="11" text-anchor="middle" fill="#111" textLength="20.8" lengthAdjust="spacingAndGlyphs">10th</text>
<line x1="193.5" y1="452.5" x2="193.5" y2="456.5" stroke="#E1E1E1" stroke-width="1"/>
<text x="193.49" y="468.8" font-size="11" text-anchor="middle" fill="#111" textLength="20.8" lengthAdjust="spacingAndGlyphs">17th</text>
<line x1="229.5" y1="452.5" x2="229.5" y2="456.5" stroke="#E1E1E1" stroke-width="1"/>
<text x="229.85" y="468.8" font-size="11" text-anchor="middle" fill="#111" textLength="20.8" lengthAdjust="spacingAndGlyphs">24th</text>
<line x1="266.5" y1="452.5" x2="266.5" y2="456.5" stroke="#E1E1E1" stroke-width="1"/>
<text x="266.22" y="468.8" font-size="11" text-anchor="middle" fill="#111" textLength="18.5" lengthAdjust="spacingAndGlyphs">31st</text>
<line x1="302.5" y1="452.5" x2="302.5" y2="456.5" stroke="#E1E1E1" stroke-width="1"/>
<text x="302.58" y="468.8" font-size="11" text-anchor="middle" fill="#111" textLength="14.8" lengthAdjust="spacingAndGlyphs">7th</text>
<line x1="338.5" y1="452.5" x2="338.5" y2="456.5" stroke="#E1E1E1" stroke-width="1"/>
<text x="338.95" y="468.8" font-size="11" text-anchor="middle" fill="#111" textLength="20.8" lengthAdjust="spacingAndGlyphs">14th</text>
<line x1="374.5" y1="452.5" x2="374.5" y2="456.5" stroke="#E1E1E1" stroke-width="1"/>
<text x="375.31" y="468.8" font-size="11" text-anchor="middle" fill="#111" textLength="18.5" lengthAdjust="spacingAndGlyphs">21st</text>
<line x1="411.5" y1="452.5" x2="411.5" y2="456.5" stroke="#E1E1E1" stroke-width="1"/>
<text x="411.68" y="468.8" font-size="11" text-anchor="middle" fill="#111" textLength="20.8" lengthAdjust="spacingAndGlyphs">28th</text>
<line x1="447.5" y1="452.5" x2="447.5" y2="456.5" stroke="#E1E1E1" stroke-width="1"/>
<text x="448.05" y="468.8" font-size="11" text-anchor="middle" fill="#111" textLength="14.8" lengthAdjust="spacingAndGlyphs">5th</text>
<line x1="110.50" y1="452.5" x2="110.50" y2="474" stroke="#EBEBEB" stroke-width="1"/>
<line x1="271.50" y1="452.5" x2="271.50" y2="474" stroke="#EBEBEB" stroke-width="1"/>
<line x1="427.50" y1="452.5" x2="427.50" y2="474" stroke="#EBEBEB" stroke-width="1"/>
<path d="M52 487.5 H66.5" stroke="#8A8A8A" stroke-width="1" fill="none"/>
<path d="M49.5 487.5 L56.5 484.3 V490.7 Z" fill="#8A8A8A"/>
<line x1="66.5" y1="481" x2="66.5" y2="494" stroke="#8A8A8A" stroke-width="1"/>
<text x="80.0" y="490.7" font-size="11" text-anchor="middle" fill="#4a4a4a" textLength="15.7" lengthAdjust="spacingAndGlyphs">Apr</text>
<line x1="94.5" y1="481" x2="94.5" y2="494" stroke="#8A8A8A" stroke-width="1"/>
<line x1="175.5" y1="481" x2="175.5" y2="494" stroke="#8A8A8A" stroke-width="1"/>
<path d="M94.5 487.5 H107.80 L110.50 484.7 L113.20 487.5 H175.5" stroke-linejoin="miter" fill="none" stroke="#8A8A8A" stroke-width="1"/>
<line x1="110.50" y1="474" x2="110.50" y2="485.1" stroke="#8A8A8A" stroke-width="1"/>
<text x="189.9" y="490.7" font-size="11" text-anchor="middle" fill="#4a4a4a" textLength="18.4" lengthAdjust="spacingAndGlyphs">May</text>
<line x1="206.5" y1="481" x2="206.5" y2="494" stroke="#8A8A8A" stroke-width="1"/>
<line x1="335.5" y1="481" x2="335.5" y2="494" stroke="#8A8A8A" stroke-width="1"/>
<path d="M206.5 487.5 H268.80 L271.50 484.7 L274.20 487.5 H335.5" stroke-linejoin="miter" fill="none" stroke="#8A8A8A" stroke-width="1"/>
<line x1="271.50" y1="474" x2="271.50" y2="485.1" stroke="#8A8A8A" stroke-width="1"/>
<text x="349.05" y="490.7" font-size="11" text-anchor="middle" fill="#4a4a4a" textLength="15.9" lengthAdjust="spacingAndGlyphs">Jun</text>
<line x1="363.5" y1="481" x2="363.5" y2="494" stroke="#8A8A8A" stroke-width="1"/>
<line x1="441.5" y1="481" x2="441.5" y2="494" stroke="#8A8A8A" stroke-width="1"/>
<path d="M363.5 487.5 H424.80 L427.50 484.7 L430.20 487.5 H441.5" stroke-linejoin="miter" fill="none" stroke="#8A8A8A" stroke-width="1"/>
<line x1="427.50" y1="474" x2="427.50" y2="485.1" stroke="#8A8A8A" stroke-width="1"/>
<text x="454.2" y="490.7" font-size="11" text-anchor="middle" fill="#4a4a4a" textLength="13.5" lengthAdjust="spacingAndGlyphs">Jul</text>
<line x1="468.5" y1="481" x2="468.5" y2="494" stroke="#8A8A8A" stroke-width="1"/>
<path d="M468.5 487.5 H481" stroke="#8A8A8A" stroke-width="1" fill="none"/>
<path d="M483.5 487.5 L476.5 484.3 V490.7 Z" fill="#8A8A8A"/>
<text transform="translate(20.5 253.4) rotate(-90)" font-size="13" text-anchor="middle" fill="#111" textLength="49" lengthAdjust="spacingAndGlyphs">Volumes</text>
<line x1="505.4" y1="20.3" x2="505.4" y2="28.9" stroke="#4185F2" stroke-width="1.2"/>
<rect x="496" y="22.2" width="19" height="4.9" rx="2.2" fill="#4185F2" stroke="#2E62BA" stroke-width="0.6"/>
<text x="517.3" y="28.5" font-size="10.67" text-anchor="start" fill="#111" textLength="55" lengthAdjust="spacingAndGlyphs">X Company</text>
<text x="498.2" y="56.2" font-size="10.67" text-anchor="start" fill="#111" textLength="76" lengthAdjust="spacingAndGlyphs">(72 Days,3,396)</text>
<rect x="577.5" y="48.5" width="18" height="8" rx="1.5" fill="#FF5414" stroke="#D33C02" stroke-width="1"/>
<rect x="583" y="48" width="6" height="9" fill="#2E62BA"/>
<rect x="583" y="49" width="6" height="7" fill="#4185F2"/>
<text x="600.6" y="56.1" font-size="10.67" text-anchor="start" fill="#111" textLength="40.6" lengthAdjust="spacingAndGlyphs">Volumes</text>
<text x="498.2" y="83.5" font-size="10.67" text-anchor="start" fill="#111" textLength="76" lengthAdjust="spacingAndGlyphs">(68 Days,3,660)</text>
<path d="M577.5 78.4 C579 81.1 581 83.0 583 82.4 C585.5 81.6 588 77.0 590.5 76.2 C593.5 75.2 594.8 77.6 595.8 80.2" fill="none" stroke="#E6CE1E" stroke-width="1.1" stroke-linecap="round"/>
<text x="603.5" y="83.5" font-size="10.67" text-anchor="start" fill="#111" textLength="44.3" lengthAdjust="spacingAndGlyphs">Aroon Up</text>
<text x="498.2" y="99.3" font-size="10.67" text-anchor="start" fill="#111" textLength="76" lengthAdjust="spacingAndGlyphs">(68 Days,4,820)</text>
<path d="M577.5 94.0 C579 96.7 581 98.6 583 98.0 C585.5 97.2 588 92.6 590.5 91.8 C593.5 90.8 594.8 93.2 595.8 95.8" fill="none" stroke="#22B033" stroke-width="1.1" stroke-linecap="round"/>
<text x="603.5" y="99.3" font-size="10.67" text-anchor="start" fill="#111" textLength="57.7" lengthAdjust="spacingAndGlyphs">Aroon Down</text>
</svg>
</body></html>
